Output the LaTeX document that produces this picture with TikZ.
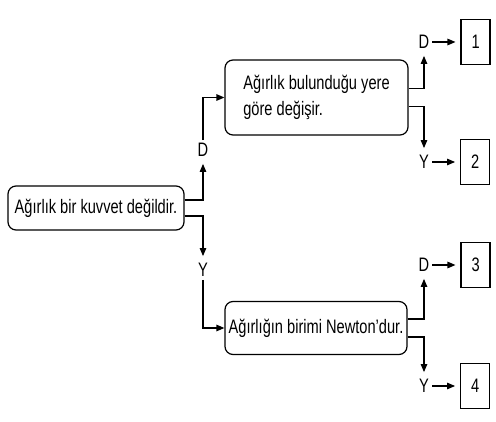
\documentclass[tikz,border=0pt]{standalone}
\usepackage{fontspec}
\setmainfont{Liberation Sans}[FakeStretch=0.75]
\usetikzlibrary{arrows.meta,positioning}

\begin{document}
\begin{tikzpicture}[
  x=1pt, y=1pt,
  font=\fontsize{19.5}{26}\selectfont,
  statement/.style={draw, rounded corners=8pt, line width=1.2pt, inner sep=0pt},
  answer/.style={inner sep=3pt},
  result/.style={draw, line width=1.2pt, minimum width=29pt, minimum height=45pt, inner sep=0pt},
  arrow/.style={-{Triangle[length=8pt,width=6.5pt]}, line width=1.2pt},
]
  \useasboundingbox (0,0) rectangle (496,421);

  % Statements
  \node[statement, minimum width=176pt, minimum height=44pt] (kuvvet) at (96,213) {Ağırlık bir kuvvet değildir.};
  \node[statement, minimum width=183pt, minimum height=75pt, align=left] (yer) at (316.5,323.5) {Ağırlık bulunduğu yere\\göre değişir.};
  \node[statement, minimum width=182pt, minimum height=53pt] (newton) at (316,93) {Ağırlığın birimi Newton’dur.};

  % Answers
  \node[answer] (kD) at (203,271) {D};
  \node[answer] (kY) at (203,151) {Y};
  \node[answer] (yD) at (424,379) {D};
  \node[answer] (yY) at (424,259) {Y};
  \node[answer] (nD) at (424,156) {D};
  \node[answer] (nY) at (424,35) {Y};

  % Results
  \node[result, right=28pt of yD] (r1) {1};
  \node[result, right=28pt of yY] (r2) {2};
  \node[result, right=28pt of nD] (r3) {3};
  \node[result, right=28pt of nY] (r4) {4};

  % First statement arrows
  \draw[arrow, shorten >=4pt] ([yshift=8pt]kuvvet.east) -| (kD);
  \draw[arrow] (kD) |- (yer);
  \draw[arrow, shorten >=4pt] ([yshift=-8pt]kuvvet.east) -| (kY);
  \draw[arrow] (kY) |- (newton);

  % Second level arrows
  \draw[arrow, shorten >=4pt] ([yshift=9pt]yer.east) -| (yD);
  \draw[arrow, shorten >=4pt] ([yshift=-9pt]yer.east) -| (yY);
  \draw[arrow, shorten >=4pt] ([yshift=9pt]newton.east) -| (nD);
  \draw[arrow, shorten >=4pt] ([yshift=-9pt]newton.east) -| (nY);

  % Results arrows
  \foreach \a/\r in {yD/r1, yY/r2, nD/r3, nY/r4}
    \draw[arrow, shorten >=5pt] (\a) -- (\r);

\end{tikzpicture}
\end{document}
